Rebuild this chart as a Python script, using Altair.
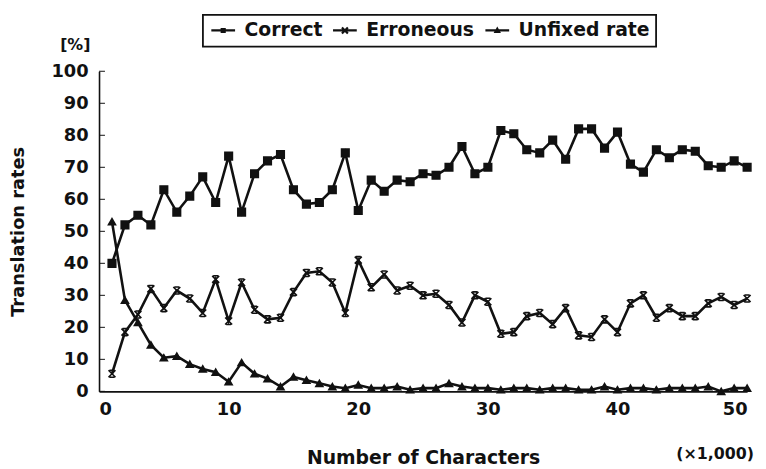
import altair as alt
import pandas as pd

# ---- data ----
chars = list(range(1, 51))  # number of characters (x 1,000)
correct = [40, 52, 55, 52, 63, 56, 61, 67, 59, 73.5,
           56, 68, 72, 74, 63, 58.5, 59, 63, 74.5, 56.5,
           66, 62.5, 66, 65.5, 68, 67.5, 70, 76.5, 68, 70,
           81.5, 80.5, 75.5, 74.5, 78.5, 72.5, 82, 82, 76, 81,
           71, 68.5, 75.5, 73, 75.5, 75, 70.5, 70, 72, 70]
erroneous = [5.5, 18.5, 24, 32, 26, 31.5, 29, 24.5, 35, 22,
             34, 25.5, 22.5, 23, 31, 37, 37.5, 34, 24.5, 41,
             32.5, 36.5, 31.5, 33, 30, 30.5, 27, 21.5, 30, 28,
             18, 18.5, 23.5, 24.5, 21, 26, 17.5, 17, 22.5, 18.5,
             27.5, 30, 23, 26, 23.5, 23.5, 27.5, 29.5, 27, 29]
unfixed = [53, 28.5, 21.5, 14.5, 10.5, 11, 8.5, 7, 6, 3,
           9, 5.5, 4, 1.5, 4.5, 3.5, 2.5, 1.5, 1, 2,
           1, 1, 1.5, 0.5, 1, 1, 2.5, 1.5, 1, 1,
           0.5, 1, 1, 0.5, 1, 1, 0.5, 0.5, 1.5, 0.5,
           1, 1, 0.5, 1, 1, 1, 1.5, 0, 1, 1]
series = ["Correct", "Erroneous", "Unfixed rate"]
y_ticks = list(range(0, 101, 10))
x_ticks = [0, 10, 20, 30, 40, 50]
y_unit = ["[%]"]
x_unit = ["(\u00d71,000)"]

rows = []
for name, vals in zip(series, [correct, erroneous, unfixed]):
    for c, v in zip(chars, vals):
        rows.append({"chars": c, "rate": v, "series": name})
df = pd.DataFrame(rows)

FONT = "DejaVu Sans"
INK = "#111111"
W, H = 655, 323.5

marker_shapes = {
    "Correct": "square",
    "Erroneous": "M-1,-1L1,1M1,-1L-1,1M-0.7,-1L0.7,-1M-0.7,1L0.7,1",
    "Unfixed rate": "triangle-up",
}
marker_sizes = {"Correct": 58, "Erroneous": 50, "Unfixed rate": 50}
# legend symbols: a short line through the marker, drawn with strokes only
legend_shapes = [
    "M-4,0L4,0M-0.5,-0.5L0.5,-0.5L0.5,0.5L-0.5,0.5Z",
    "M-4,0L4,0M-1,-1L1,1M1,-1L-1,1",
    "M-4,0L4,0M-0.6,0.45L0.6,0.45L0,-0.6Z",
]

xs = alt.Scale(domain=[0, 50], nice=False)
ys = alt.Scale(domain=[0, 100], nice=False)

x_axis = alt.Axis(values=x_ticks, title="Number of Characters", grid=False,
                  tickSize=0, labelPadding=9, titlePadding=31,
                  labelFontSize=18, titleFontSize=19)
y_axis = alt.Axis(values=y_ticks, title="Translation rates", grid=False,
                  tickSize=0, labelPadding=11, titleX=-72, titleY=H / 2,
                  labelFontSize=18, titleFontSize=18)

base = alt.Chart(df)

lines = base.mark_line(color=INK, strokeWidth=2.6).encode(
    x=alt.X("chars:Q", scale=xs, axis=x_axis),
    y=alt.Y("rate:Q", scale=ys, axis=y_axis),
    detail="series:N",
)

point_layers = []
for name in series:
    point_layers.append(
        base.transform_filter(alt.datum.series == name).mark_point(
            shape=marker_shapes[name], filled=True, fill=INK, stroke=INK,
            strokeWidth=1.6, size=marker_sizes[name], opacity=1,
        ).encode(
            x=alt.X("chars:Q", scale=xs, axis=x_axis),
            y=alt.Y("rate:Q", scale=ys, axis=y_axis),
        )
    )

legend_layer = base.transform_filter("false").mark_point(
    filled=False, stroke=INK, strokeWidth=2.2, opacity=1
).encode(
    x=alt.X("chars:Q", scale=xs, axis=x_axis),
    y=alt.Y("rate:Q", scale=ys, axis=y_axis),
    shape=alt.Shape(
        "series:N",
        scale=alt.Scale(domain=series, range=legend_shapes),
        legend=alt.Legend(
            title=None, orient="none", legendX=105, legendY=-57,
            direction="horizontal", symbolSize=36, symbolOffset=5,
            labelOffset=12, columnPadding=6, padding=6,
            strokeColor=INK, symbolStrokeColor=INK, symbolStrokeWidth=2.2,
            labelFontSize=19, labelFont=FONT,
            labelFontWeight="bold", labelColor=INK,
        ),
    ),
)

tick_df = pd.DataFrame({"t": y_ticks})
inner_ticks = alt.Chart(tick_df).mark_rule(color=INK, strokeWidth=1).encode(
    y=alt.Y("t:Q", scale=ys, axis=y_axis),
    x=alt.value(0),
    x2=alt.value(6),
)

y_unit_txt = alt.Chart(pd.DataFrame({"u": y_unit})).mark_text(
    font=FONT, fontSize=16, fontWeight="bold", color=INK, align="center", baseline="middle"
).encode(text="u:N", x=alt.value(-24), y=alt.value(-26))

x_unit_txt = alt.Chart(pd.DataFrame({"u": x_unit})).mark_text(
    font=FONT, fontSize=16, fontWeight="bold", color=INK, align="right", baseline="middle"
).encode(text="u:N", x=alt.value(W + 7), y=alt.value(H + 63))

chart = alt.layer(
    lines, *point_layers, inner_ticks, legend_layer, y_unit_txt, x_unit_txt
).properties(
    width=W, height=H,
    autosize=alt.AutoSizeParams(type="none"),
    padding={"left": 92, "top": 61.5, "right": 11, "bottom": 74},
    background="white",
).configure_view(stroke=None).configure_axis(
    labelFont=FONT, titleFont=FONT, labelFontWeight="bold", titleFontWeight="bold",
    labelColor=INK, titleColor=INK, domainColor=INK, domainWidth=1.6,
).configure_legend(strokeWidth=1.8)

chart.save("out.html", embed_options={"renderer": "svg", "actions": False})
